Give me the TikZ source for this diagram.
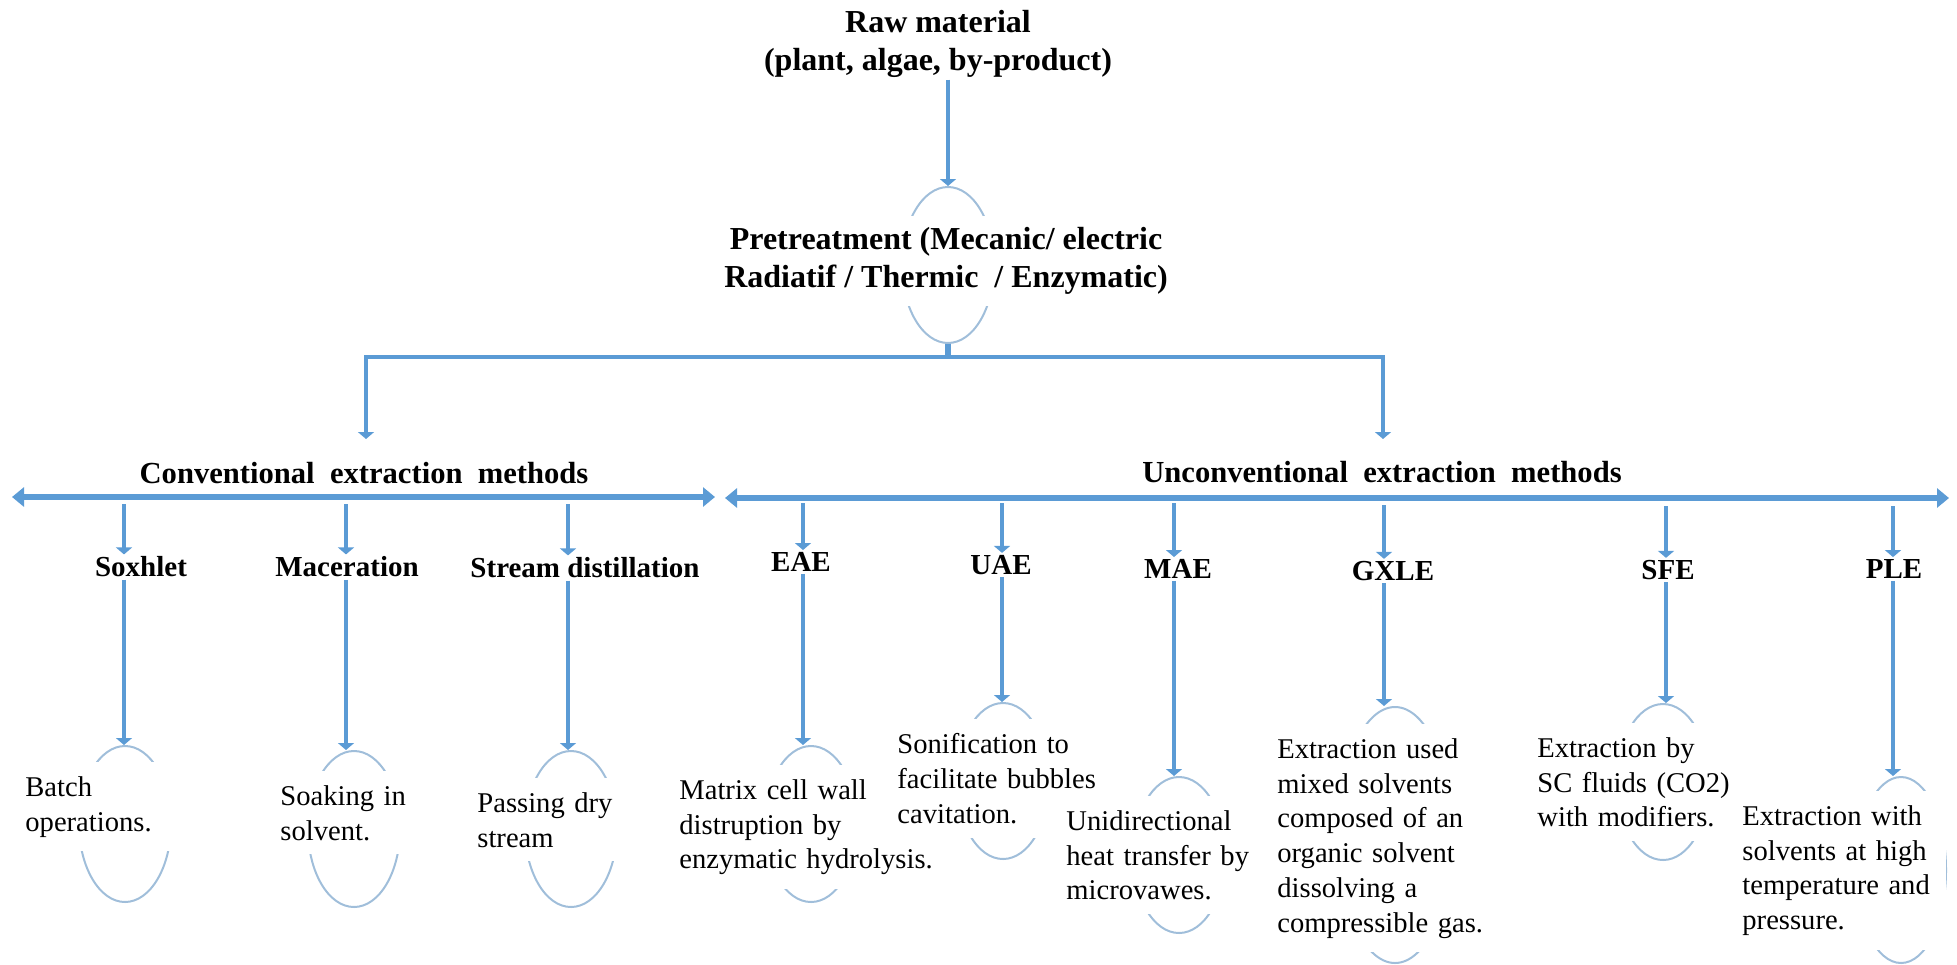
\documentclass[tikz,border=0pt]{standalone}
\usepackage{fontspec}
\setmainfont{Liberation Serif}
\usetikzlibrary{arrows.meta,shapes.geometric}
\definecolor{flowblue}{RGB}{91,155,213}
\definecolor{ovalblue}{RGB}{160,190,218}

\begin{document}
\begin{tikzpicture}[
  x=0.5pt, y=-0.5pt,
  head/.style={font=\fontsize{16}{18.7}\selectfont\bfseries, align=center, inner sep=1pt},
  cat/.style={font=\fontsize{15.3}{18}\selectfont\bfseries, inner sep=1pt},
  lbl/.style={font=\fontsize{14.5}{17}\selectfont\bfseries, inner sep=1pt},
  desc/.style={font=\fontsize{14.3}{17.4}\selectfont, fill=white, align=left,
               anchor=north west, inner xsep=0pt, inner ysep=7pt},
  oval/.style={draw=ovalblue, line width=1pt, ellipse, inner sep=0pt,
               minimum width=46pt, minimum height=78pt},
  arr/.style={draw=flowblue, line width=2.4pt, -{Triangle[width=8pt,length=3.5pt]}},
  dbl/.style={draw=flowblue, line width=3pt,
              {Triangle[width=9.5pt,length=6pt]}-{Triangle[width=9.5pt,length=6pt]}},
  bar/.style={draw=flowblue, line width=3pt}
]
\useasboundingbox (0,0) rectangle (1957,964);

% top of the tree
\node[head] (raw) at (938,44) {Raw material\\(plant,\ algae, by-product)};
\node[oval] (pe) at (948,265) {};
\node[head, fill=white, inner ysep=6pt] (pre) at (946,261) {Pretreatment (Mecanic/ electric\\Radiatif / Thermic\ \ / Enzymatic)};
\draw[arr] (pe.north |- raw.south) -- (pe.north);

\coordinate (bj) at (948,357);
\coordinate (cd) at (366,439);
\coordinate (ud) at (1383,439);
\draw[bar] (pe.south) -- (bj);
\draw[arr] (bj) -| (cd);
\draw[arr] (bj) -| (ud);

% the two families
\node[cat] (conv) at (364,473) {Conventional\ \ extraction\ \ methods};
\node[cat] (unconv) at (1382,472) {Unconventional\ \ extraction\ \ methods};
\coordinate (cl) at (12,497);  \coordinate (cr) at (715,497);
\coordinate (ul) at (725,498); \coordinate (ur) at (1949,498);
\draw[dbl] (cl) -- (cr);
\draw[dbl] (ul) -- (ur);

% method names
\node[lbl] (sox) at (141,567) {Soxhlet};
\node[lbl] (mac) at (347,567) {Maceration};
\node[lbl] (std) at (585,568) {Stream distillation};
\node[lbl] (eae) at (801,562) {EAE};
\node[lbl] (uae) at (1001,565) {UAE};
\node[lbl] (mae) at (1178,569) {MAE};
\node[lbl] (gxle) at (1393,571) {GXLE};
\node[lbl] (sfe) at (1668,570) {SFE};
\node[lbl] (ple) at (1894,569) {PLE};

\coordinate (s1) at (124,504);  \coordinate (s2) at (346,504);
\coordinate (s3) at (568,504);  \coordinate (s4) at (803,503);
\coordinate (s5) at (1002,503); \coordinate (s6) at (1174,503);
\coordinate (s7) at (1384,505); \coordinate (s8) at (1666,506);
\coordinate (s9) at (1893,506);

% ovals behind the descriptions
\node[oval] (e1) at (125,824) {};
\node[oval] (e2) at (354,829) {};
\node[oval] (e3) at (571,829) {};
\node[oval] (e4) at (811,824) {};
\node[oval] (e5) at (1003,781) {};
\node[oval] (e6) at (1179,855) {};
\node[oval, minimum width=57pt, minimum height=128pt] (e7) at (1395,835) {};
\node[oval] (e8) at (1663,782) {};
\node[oval, minimum width=45pt, minimum height=93pt] (e9) at (1901,870) {};

% descriptions
\node[desc, text width=78pt] (d1) at (25,762) {Batch\\operations.};
\node[desc, text width=64pt] (d2) at (280,771) {Soaking in\\solvent.};
\node[desc, text width=72pt] (d3) at (477,778) {Passing dry\\stream};
\node[desc, text width=127pt] (d4) at (679,765) {Matrix cell wall\\distruption by\\enzymatic hydrolysis.};
\node[desc, text width=100pt] (d5) at (897,719) {Sonification to\\facilitate bubbles\\cavitation.};
\node[desc, text width=92pt] (d6) at (1066,796) {Unidirectional\\heat transfer by\\microvawes.};
\node[desc, text width=104pt] (d7) at (1277,724) {Extraction used\\mixed solvents\\composed of an\\organic solvent\\dissolving a\\compressible gas.};
\node[desc, text width=102pt] (d8) at (1537,723) {Extraction by\\SC fluids (CO2)\\with modifiers.};
\node[desc, text width=102pt] (d9) at (1742,791) {Extraction with\\solvents at high\\temperature and\\pressure.};

\draw[arr] (s1) -- (s1 |- sox.north);  \draw[arr] (s1 |- sox.south) -- (s1 |- e1.north);
\draw[arr] (s2) -- (s2 |- mac.north);  \draw[arr] (s2 |- mac.south) -- (s2 |- e2.north);
\draw[arr] (s3) -- (s3 |- std.north);  \draw[arr] (s3 |- std.south) -- (s3 |- e3.north);
\draw[arr] (s4) -- (s4 |- eae.north);  \draw[arr] (s4 |- eae.south) -- (s4 |- e4.north);
\draw[arr] (s5) -- (s5 |- uae.north);  \draw[arr] (s5 |- uae.south) -- (s5 |- e5.north);
\draw[arr] (s6) -- (s6 |- mae.north);  \draw[arr] (s6 |- mae.south) -- (s6 |- e6.north);
\draw[arr] (s7) -- (s7 |- gxle.north); \draw[arr] (s7 |- gxle.south) -- (s7 |- e7.north);
\draw[arr] (s8) -- (s8 |- sfe.north);  \draw[arr] (s8 |- sfe.south) -- (s8 |- e8.north);
\draw[arr] (s9) -- (s9 |- ple.north);  \draw[arr] (s9 |- ple.south) -- (s9 |- e9.north);
\end{tikzpicture}
\end{document}
